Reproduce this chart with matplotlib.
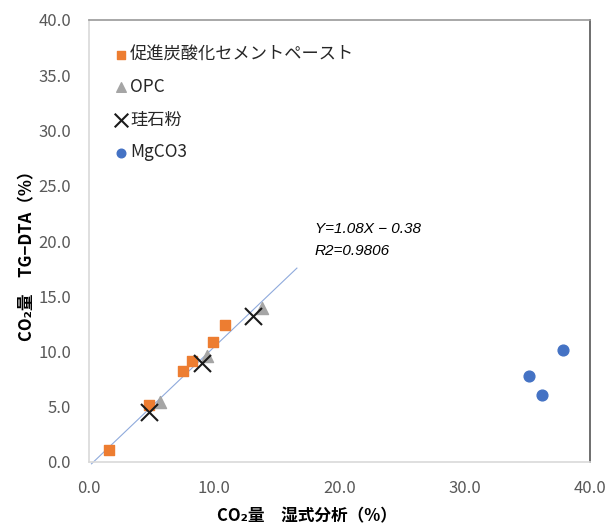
import matplotlib
matplotlib.use("Agg")
import matplotlib.pyplot as plt
import numpy as np
from matplotlib.ticker import FormatStrFormatter

plt.rcParams['font.family'] = ['Noto Sans CJK JP', 'DejaVu Sans']

# data
paste_x = [1.62, 4.81, 7.48, 8.22, 9.88, 10.83]
paste_y = [1.09, 5.16, 8.26, 9.17, 10.86, 12.4]
opc_x = [5.67, 9.45, 13.81]
opc_y = [5.46, 9.59, 13.9]
silica_x = [4.79, 9.0, 13.07]
silica_y = [4.5, 8.93, 13.21]
mgco3_x = [37.87, 35.13, 36.17]
mgco3_y = [10.14, 7.78, 6.06]
labels = ["促進炭酸化セメントペースト", "OPC", "珪石粉", "MgCO3"]
slope, intercept = 1.08, -0.38
fit_range = [0.2, 16.6]
ticks = [0, 10, 20, 30, 40]
yticks = [0, 5, 10, 15, 20, 25, 30, 35, 40]

fig = plt.figure(figsize=(6.1, 5.25), dpi=100)
ax = fig.add_axes([89/610, 1-462/525, 501/610, 442/525])

# trendline
fx = np.array(fit_range)
ax.plot(fx, slope*fx + intercept, color="#8FAADC", lw=0.8, clip_on=False, zorder=1)

ax.scatter(paste_x, paste_y, marker="s", s=50, color="#ED7D31", label=labels[0], zorder=3)
ax.scatter(opc_x, opc_y, marker="^", s=75, color="#A5A5A5", label=labels[1], zorder=3)
ax.scatter(silica_x, silica_y, marker="x", s=150, color="#1a1a1a", linewidths=1.5, label=labels[2], zorder=4)
ax.scatter(mgco3_x, mgco3_y, marker="o", s=60, color="#4472C4", label=labels[3], zorder=3)

ax.set_xlim(0, 40)
ax.set_ylim(0, 40)
ax.set_xticks(ticks)
ax.set_yticks(yticks)
ax.xaxis.set_major_formatter(FormatStrFormatter("%.1f"))
ax.yaxis.set_major_formatter(FormatStrFormatter("%.1f"))
ax.tick_params(length=0, labelsize=12, labelcolor="#595959")
ax.tick_params(axis="x", pad=13)
ax.tick_params(axis="y", pad=13)

ax.spines['left'].set_color("#D9D9D9")
ax.spines['bottom'].set_color("#D9D9D9")
ax.spines['top'].set_color("#9A9A9A")
ax.spines['right'].set_color("#555555")
for s in ax.spines.values():
    s.set_linewidth(1.2)

ax.set_xlabel("CO₂量　湿式分析（%）", fontsize=12, fontweight="bold")
ax.xaxis.set_label_coords(0.435, -0.102)
ax.set_ylabel("CO₂量　TG−DTA（%）", fontsize=12, fontweight="bold")
ax.yaxis.set_label_coords(-0.106, 0.475)

ax.text(0.451, 0.527, "Y=1.08X − 0.38", transform=ax.transAxes, fontsize=11,
        style="italic", family="Liberation Sans", va="center")
ax.text(0.451, 0.477, "R2=0.9806", transform=ax.transAxes, fontsize=11,
        style="italic", family="Liberation Sans", va="center")

leg = ax.legend(loc="upper left", bbox_to_anchor=(0.015, 0.978), frameon=False,
                fontsize=12.4, handletextpad=0.05, labelspacing=0.85, markerscale=0.8,
                handlelength=1.0)
for t in leg.get_texts():
    t.set_color("#262626")

fig.savefig("out.png", dpi=100)
